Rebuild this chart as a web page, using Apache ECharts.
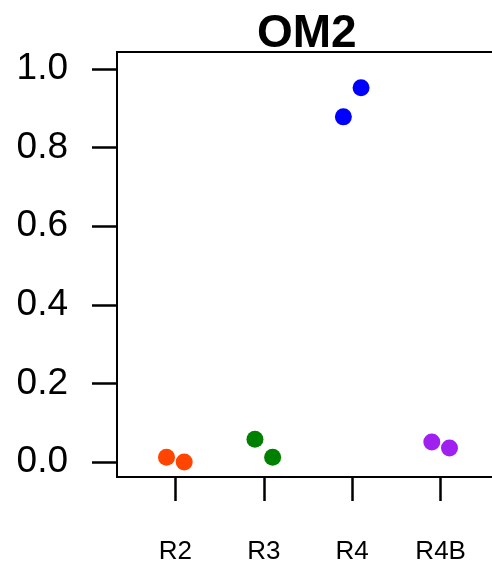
<!DOCTYPE html>
<html>
<head>
<meta charset="utf-8">
<script src="https://cdn.jsdelivr.net/npm/echarts@6/dist/echarts.min.js"></script>
<style>
  html, body { margin: 0; padding: 0; background: #fff; overflow: hidden; }
  #chart { width: 504px; height: 566px; }
</style>
</head>
<body>
<div id="chart"></div>
<script>
const categories = ['R2', 'R3', 'R4', 'R4B'];
const colors = ['#FF4500', '#008000', '#0000FF', '#A020F0'];
// two replicates per group
const rep1 = [0.012, 0.058, 0.878, 0.051];
const rep2 = [0.0, 0.012, 0.952, 0.036];
const dodge = [-0.1, 0.1];
const yTicks = [0, 0.2, 0.4, 0.6, 0.8, 1.0];
const xTicks = [1, 2, 3, 4];

// the plot box runs past the right edge of the window, as in the reference
const chart = echarts.init(document.getElementById('chart'));
const font = 'Liberation Sans, Arial, sans-serif';

const series = categories.map((cat, i) => ({
  name: cat,
  type: 'scatter',
  symbolSize: 17,
  itemStyle: { color: colors[i], opacity: 1 },
  data: [
    [i + 1 + dodge[0], rep1[i]],
    [i + 1 + dodge[1], rep2[i]]
  ]
}));

chart.setOption({
  animation: false,
  backgroundColor: '#ffffff',
  title: {
    text: 'OM2',
    left: 252,
    top: 6,
    textStyle: { fontFamily: font, fontWeight: 'bold', fontSize: 46, color: '#000' }
  },
  grid: {
    left: 117,
    top: 52,
    width: 382,
    bottom: 89,
    show: true,
    borderColor: '#000',
    borderWidth: 2
  },
  xAxis: {
    type: 'value',
    min: 0.34,
    max: 4.66,
    splitLine: { show: false },
    axisLine: { show: false, onZero: false },
    axisTick: {
      show: true,
      customValues: xTicks,
      length: 24,
      lineStyle: { color: '#000', width: 2.5 }
    },
    axisLabel: {
      customValues: xTicks,
      margin: 62,
      fontFamily: font,
      fontSize: 26,
      color: '#000',
      formatter: (v) => categories[Math.round(v) - 1]
    }
  },
  yAxis: {
    type: 'value',
    min: -0.038,
    max: 1.043,
    splitLine: { show: false },
    axisLine: { show: false, onZero: false },
    axisTick: {
      show: true,
      customValues: yTicks,
      length: 25,
      lineStyle: { color: '#000', width: 2.5 }
    },
    axisLabel: {
      customValues: yTicks,
      margin: 49,
      fontFamily: font,
      fontSize: 37,
      color: '#000',
      formatter: (v) => v.toFixed(1)
    }
  },
  series: series
});
</script>
</body>
</html>
